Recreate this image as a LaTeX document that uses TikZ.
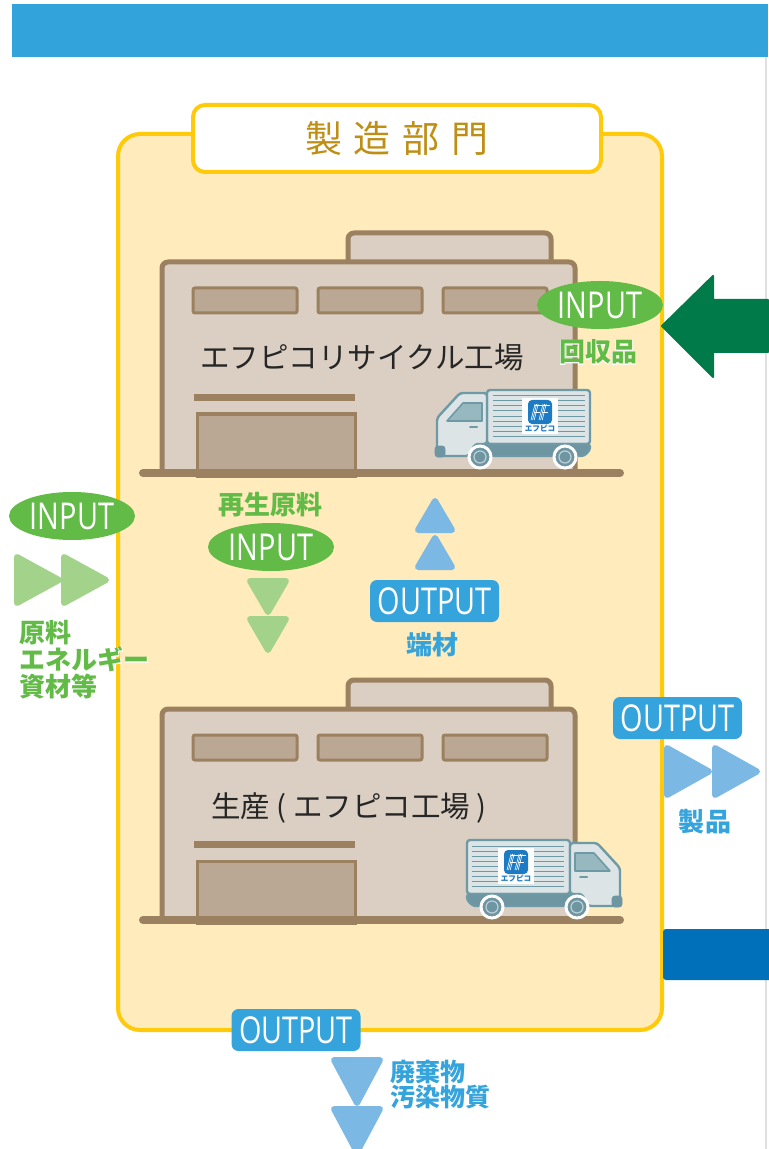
\documentclass[tikz,border=0pt]{standalone}
\usepackage{fontspec}
\usetikzlibrary{shapes.geometric}
\newfontfamily\jpfont{Noto Sans CJK JP}
\newfontfamily\iofont[FakeStretch=0.78]{Open Sans}

\definecolor{barblue}{HTML}{33A3DC}
\definecolor{panelfill}{HTML}{FFEBBB}
\definecolor{panelline}{HTML}{FFCA0A}
\definecolor{titlegold}{HTML}{BE8F14}
\definecolor{wallfill}{HTML}{DACFC2}
\definecolor{winfill}{HTML}{BBA894}
\definecolor{bldline}{HTML}{9B8160}
\definecolor{ingreen}{HTML}{62BB46}
\definecolor{trigreen}{HTML}{A3D38B}
\definecolor{darkgreen}{HTML}{007A48}
\definecolor{outblue}{HTML}{35A4DC}
\definecolor{triblue}{HTML}{7BB8E4}
\definecolor{deepblue}{HTML}{0070BA}
\definecolor{truckline}{HTML}{6E9AA6}
\definecolor{truckbody}{HTML}{DDE4E6}
\definecolor{truckdark}{HTML}{6E96A2}
\definecolor{truckglass}{HTML}{97B8BE}
\definecolor{logoblue}{HTML}{1D7BC4}

% white outline behind the small labels
\newcommand\halo[1]{\leavevmode\rlap{\color{white}\addfontfeature{FakeBold=4}#1}#1}

% truck drawn facing left, origin at top left of the cab
\newcommand\truckbody{%
  \filldraw[truckbox] (50,0) rectangle (153,54);
  \foreach \y in {6,11,...,46}
    \draw[truckline, line width=0.5pt] (56,\y) -- (148,\y);
  \filldraw[truckbox, fill=truckdark] (30,54) -- (153,54) -- (153,60) -- (147,66) -- (30,66) -- cycle;
  \filldraw[truckbox] (0,66) -- (0,28) -- (23,3) -- (50,3) -- (50,54) -- (38,54) -- (32,66) -- cycle;
  \filldraw[fill=truckglass, draw=truckline, line width=0.8pt, line join=round] (10,31) -- (26,13) -- (45,13) -- (45,31) -- cycle;
  \draw[truckline, line width=1pt, line cap=round] (33,37) -- (40,37);
  \filldraw[fill=truckdark, draw=truckdark, rounded corners=1.5pt] (-2,56) rectangle (8,67);
  \foreach \x in {43,128} {
    \filldraw[fill=truckdark, draw=white, line width=1.5pt] (\x,67) circle[radius=11];
    \draw[white!55!truckdark, line width=0.6pt] (\x,67) circle[radius=6];
  }%
}

% company mark on the cargo box
\newcommand\logo[2]{%
  \begin{scope}[shift={#2}]
    \fill[white] (-18,-18) rectangle (18,18);
    \fill[logoblue, rounded corners=2pt] (-12,-16) rectangle (12,8);
    \foreach \s in {-6,2} {
      \foreach \i in {0,1.6,3.2}
        \draw[white, line width=0.3pt] ({\s-3+\i},4) -- ({\s+1+\i},-12);
      \draw[white, line width=0.3pt] ({\s+1},-11) -- ({\s+8},-11);
      \draw[white, line width=0.3pt] ({\s},-4) -- ({\s+6},-4);
    }
    \node[logotext] (#1) at (0,12.5) {エフピコ};
  \end{scope}%
}

\tikzset{
  wall/.style={fill=wallfill, draw=bldline, line width=2.5pt, line join=round},
  window/.style={fill=winfill, draw=bldline, line width=1.5pt, rounded corners=1pt},
  truckbox/.style={fill=truckbody, draw=truckline, line width=1.2pt, line join=round, rounded corners=1.5pt},
  tri/.style={line width=3pt, line join=round},
  logotext/.style={text=logoblue, font=\jpfont\bfseries\fontsize{3.8pt}{4pt}\selectfont, inner sep=0},
  inbadge/.style={ellipse, fill=ingreen, text=white, minimum width=63pt, minimum height=24pt, inner sep=0,
    font=\iofont\fontsize{18.5pt}{18.5pt}\selectfont},
  outbadge/.style={rectangle, rounded corners=3.5pt, fill=outblue, text=white, minimum width=64.5pt,
    minimum height=21pt, inner sep=0, font=\iofont\fontsize{18.5pt}{18.5pt}\selectfont},
  greenlabel/.style={text=ingreen, inner sep=0, align=left,
    font=\jpfont\bfseries\fontsize{13pt}{13.5pt}\selectfont},
  bluelabel/.style={greenlabel, text=outblue},
  plantname/.style={text=black!85, inner sep=0, font=\jpfont\fontsize{14.75pt}{15pt}\selectfont},
}

\begin{document}
\begin{tikzpicture}[x=0.5pt, y=-0.5pt]
  \useasboundingbox (0,0) rectangle (768,1149);

  % header band
  \fill[barblue] (12,4) rectangle (768,57);
  \draw[black!12, line width=0.6pt] (766,57) -- (766,1149);

  % department panel
  \draw[panelline, fill=panelfill, line width=2pt, rounded corners=11pt] (118,134) rectangle (662,1030);
  \node[draw=panelline, fill=white, line width=2pt, rounded corners=6pt, minimum width=204pt,
    minimum height=33.5pt, text=titlegold, font=\jpfont\fontsize{18.5pt}{18.5pt}\selectfont] (title)
    at (397,138.5) {製\hspace{6pt}造\hspace{6pt}部\hspace{6pt}門};

  % the two factories
  \foreach \dy in {0,447} {
    \begin{scope}[shift={(0,\dy)}]
      \filldraw[wall, rounded corners=3pt] (348,270) -- (348,233) -- (551,233) -- (551,270);
      \filldraw[wall, rounded corners=3pt] (162,473) -- (162,262) -- (575,262) -- (575,473);
      \foreach \x in {193,318,443}
        \filldraw[window] (\x,288) rectangle ({\x+104},313);
      \fill[bldline] (194,394) rectangle (355,401);
      \filldraw[window, rounded corners=0pt] (197,414) rectangle (355,476);
      \draw[bldline, line width=4pt, line cap=round] (143,473) -- (620,473);
    \end{scope}
  }
  \node[plantname] (recycle) at (362,357) {エフピコリサイクル工場};
  \node[plantname] (plant) at (349,808) {生産 ( エフピコ工場 )};

  % trucks
  \begin{scope}[shift={(437,390)}]
    \truckbody
  \end{scope}
  \logo{logoA}{(540,416)}
  \begin{scope}[shift={(620,840)}, xscale=-1]
    \truckbody
  \end{scope}
  \logo{logoB}{(516,866)}

  % collected goods coming in
  \filldraw[darkgreen, line join=round, line width=1pt] (662,326) -- (713,276) -- (713,300) -- (768,300)
    -- (768,352) -- (713,352) -- (713,377) -- cycle;
  \node[inbadge] (inR) at (600,305) {INPUT};
  \node[greenlabel] (collect) at (598,352) {\halo{回収品}};

  % raw materials from the left
  \node[inbadge] (inL) at (72,516) {INPUT};
  \foreach \dx in {0,47}
    \filldraw[trigreen, tri] ({17+\dx},557) -- ({17+\dx},603) -- ({59+\dx},580) -- cycle;
  \node[greenlabel, anchor=west] (raw) at (19,660) {\halo{原料}\\\halo{エネルギー}\\\halo{資材等}};

  % recycled material down to production
  \node[greenlabel] (recyc) at (270,505) {再生原料};
  \node[inbadge] (inM) at (271,547) {INPUT};
  \foreach \dy in {0,38}
    \filldraw[trigreen, tri] (250,{581+\dy}) -- (286,{581+\dy}) -- (268,{612+\dy}) -- cycle;

  % offcuts back to recycling
  \foreach \dy in {0,37}
    \filldraw[triblue, tri] (435,{501+\dy}) -- (418,{530+\dy}) -- (452,{530+\dy}) -- cycle;
  \node[outbadge] (outM) at (434.5,601) {OUTPUT};
  \node[bluelabel] (scrap) at (432,645) {端材};

  % products
  \node[outbadge] (outR) at (677.5,718) {OUTPUT};
  \foreach \dx in {0,48}
    \filldraw[triblue, tri] ({667+\dx},748) -- ({667+\dx},795) -- ({709+\dx},771.5) -- cycle;
  \node[bluelabel] (goods) at (705,822) {製\hspace{1pt}品};
  \fill[deepblue, rounded corners=1.5pt] (663,929) rectangle (790,980);

  % waste
  \node[outbadge] (outB) at (296,1030) {OUTPUT};
  \foreach \dy in {0,49}
    \filldraw[triblue, tri] (334,{1060+\dy}) -- (380,{1060+\dy}) -- (357,{1103+\dy}) -- cycle;
  \node[bluelabel, anchor=west, font=\jpfont\bfseries\fontsize{12.5pt}{12.5pt}\selectfont] (waste)
    at (390,1085) {廃棄物\\汚染物質};
\end{tikzpicture}
\end{document}
